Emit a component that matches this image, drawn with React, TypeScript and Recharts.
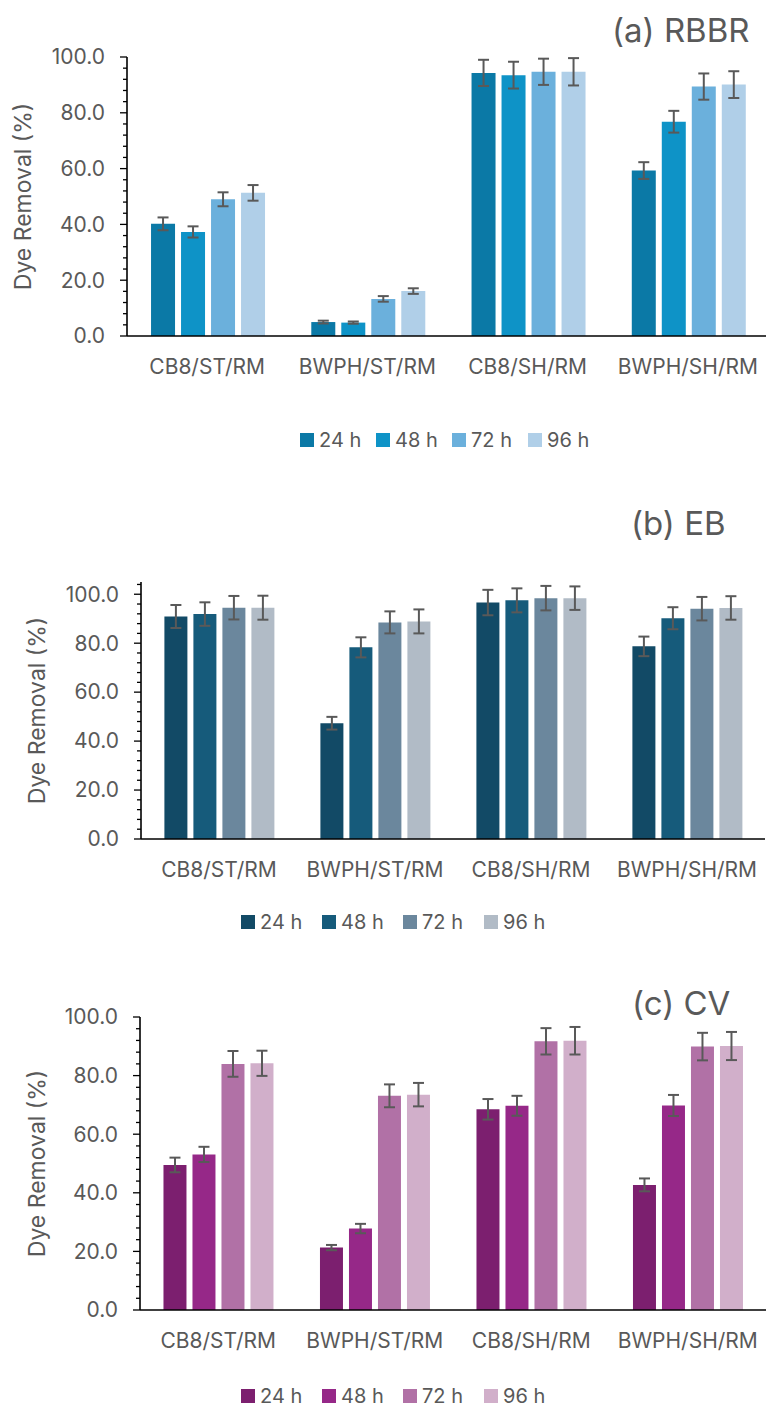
import { BarChart, Bar, XAxis, YAxis, ErrorBar, Legend } from "recharts"

const categories = ["CB8/ST/RM", "BWPH/ST/RM", "CB8/SH/RM", "BWPH/SH/RM"]
const seriesNames = ["24 h", "48 h", "72 h", "96 h"]

// (a) RBBR
const rbbr24 = [40.2, 5.0, 94.3, 59.3]
const rbbr48 = [37.3, 4.8, 93.5, 76.8]
const rbbr72 = [49.0, 13.3, 94.7, 89.4]
const rbbr96 = [51.3, 16.1, 94.7, 90.1]
const rbbrErr24 = [2.3, 0.5, 4.7, 3.0]
const rbbrErr48 = [2.0, 0.4, 4.8, 3.9]
const rbbrErr72 = [2.5, 1.0, 4.7, 4.7]
const rbbrErr96 = [2.8, 1.0, 4.9, 4.8]

// (b) EB
const eb24 = [90.9, 47.3, 96.6, 78.7]
const eb48 = [91.9, 78.3, 97.5, 90.2]
const eb72 = [94.5, 88.5, 98.4, 94.1]
const eb96 = [94.5, 88.9, 98.4, 94.4]
const ebErr24 = [4.7, 2.6, 5.2, 4.0]
const ebErr48 = [4.8, 4.1, 4.9, 4.5]
const ebErr72 = [4.8, 4.5, 5.0, 4.8]
const ebErr96 = [4.9, 4.9, 4.8, 4.8]

// (c) CV
const cv24 = [49.5, 21.3, 68.5, 42.7]
const cv48 = [53.1, 27.8, 69.7, 69.8]
const cv72 = [84.0, 73.1, 91.7, 89.9]
const cv96 = [84.2, 73.5, 91.9, 90.1]
const cvErr24 = [2.5, 0.9, 3.5, 2.2]
const cvErr48 = [2.6, 1.6, 3.4, 3.6]
const cvErr72 = [4.4, 3.9, 4.5, 4.7]
const cvErr96 = [4.3, 4.0, 4.7, 4.8]

const yTicks = [0, 4, 8, 12, 16, 20, 24, 28, 32, 36, 40, 44, 48, 52, 56, 60, 64, 68, 72, 76, 80, 84, 88, 92, 96, 100]
const yTicksB = [...yTicks, 104]

const blues = ["#0B79A6", "#0E93C7", "#6BB0DC", "#B0CFE8"]
const slates = ["#124A66", "#165B7B", "#6B879D", "#B1BBC6"]
const purples = ["#7C1F6F", "#962888", "#B171A6", "#D1AFCA"]

const TEXT = "#595959"

const buildRows = (v: number[][], e: number[][]) =>
  categories.map((name, i) => ({
    name,
    v24: v[0][i], v48: v[1][i], v72: v[2][i], v96: v[3][i],
    e24: e[0][i], e48: e[1][i], e72: e[2][i], e96: e[3][i],
  }))

const rbbrRows = buildRows([rbbr24, rbbr48, rbbr72, rbbr96], [rbbrErr24, rbbrErr48, rbbrErr72, rbbrErr96])
const ebRows = buildRows([eb24, eb48, eb72, eb96], [ebErr24, ebErr48, ebErr72, ebErr96])
const cvRows = buildRows([cv24, cv48, cv72, cv96], [cvErr24, cvErr48, cvErr72, cvErr96])

const YTick = (props: any) => {
  const { x, y, payload } = props
  const major = payload.value % 20 === 0
  return (
    <g>
      <line x1={x - (major ? 7 : 4)} x2={x} y1={y} y2={y} stroke="#000" strokeWidth={1.3} />
      {major && (
        <text x={x - 22} y={y} dy="0.35em" textAnchor="end" fontSize={21} fill={TEXT}>
          {payload.value.toFixed(1)}
        </text>
      )}
    </g>
  )
}

const LegendContent = (props: any) => {
  const { payload, step } = props
  return (
    <div style={{ display: "flex", alignItems: "center" }}>
      {payload.map((p: any) => (
        <div key={p.value} style={{ display: "flex", alignItems: "center", width: step }}>
          <span style={{ width: 14, height: 14, background: p.color, marginRight: 5 }} />
          <span style={{ fontSize: 20, color: TEXT, lineHeight: "24px" }}>{p.value}</span>
        </div>
      ))}
    </div>
  )
}

interface PanelProps {
  rows: any[]
  colors: string[]
  title: string
  titleX: number
  titleY: number
  top: number
  height: number
  margin: { top: number; right: number; bottom: number; left: number }
  domain: [number, number]
  ticks: number[]
  labelX: number
  legendX: number
  legendY: number
  legendStep: number
}

const Panel = (p: PanelProps) => {
  const keys = ["24", "48", "72", "96"]
  return (
    <div style={{ position: "absolute", left: 0, top: p.top, width: 770, height: p.height }}>
      <BarChart
        width={770}
        height={p.height}
        data={p.rows}
        margin={p.margin}
        barCategoryGap="15%"
        barGap={6}
      >
        <XAxis
          dataKey="name"
          axisLine={{ stroke: "#000", strokeWidth: 1.6 }}
          tickLine={false}
          tickSize={0}
          tickMargin={23}
          height={40}
          tick={{ fontSize: 21, fill: TEXT }}
          interval={0}
        />
        <YAxis
          width={60}
          domain={p.domain}
          ticks={p.ticks}
          interval={0}
          allowDataOverflow
          axisLine={{ stroke: "#000", strokeWidth: 1.6 }}
          tickLine={false}
          tickSize={0}
          tickMargin={0}
          tick={<YTick />}
          label={{
            content: (lp: any) => {
              const vb = lp.viewBox
              const cy = vb.y + vb.height / 2
              return (
                <text
                  x={p.labelX}
                  y={cy}
                  transform={`rotate(-90, ${p.labelX}, ${cy})`}
                  textAnchor="middle"
                  dominantBaseline="central"
                  fontSize={23}
                  fill={TEXT}
                >
                  Dye Removal (%)
                </text>
              )
            },
          }}
        />
        <Legend
          layout="horizontal"
          verticalAlign="middle"
          align="center"
          wrapperStyle={{ top: p.legendY - p.top - 12, left: p.legendX, width: "auto" }}
          content={<LegendContent step={p.legendStep} />}
        />
        {keys.map((k, i) => (
          <Bar key={k} dataKey={`v${k}`} name={seriesNames[i]} fill={p.colors[i]} isAnimationActive={false}>
            <ErrorBar dataKey={`e${k}`} direction="y" width={5.5} stroke="#595959" strokeWidth={2} />
          </Bar>
        ))}
      </BarChart>
      <div
        style={{
          position: "absolute",
          left: p.titleX,
          top: p.titleY - p.top - 20,
          fontSize: 33,
          color: TEXT,
          lineHeight: "40px",
          whiteSpace: "nowrap",
        }}
      >
        {p.title}
      </div>
    </div>
  )
}

export default function App() {
  return (
    <div
      style={{
        position: "absolute",
        left: 0,
        top: 0,
        width: 766,
        height: 1413,
        overflow: "hidden",
        background: "#fff",
        fontFamily: "Inter, 'Noto Sans', sans-serif",
      }}
    >
      <Panel
        rows={rbbrRows}
        colors={blues}
        title="(a) RBBR"
        titleX={612}
        titleY={30}
        top={0}
        height={470}
        margin={{ top: 57, right: 2, bottom: 94, left: 67 }}
        domain={[0, 100]}
        ticks={yTicks}
        labelX={23}
        legendX={300}
        legendY={440}
        legendStep={76}
      />
      <Panel
        rows={ebRows}
        colors={slates}
        title="(b) EB"
        titleX={631}
        titleY={523}
        top={470}
        height={480}
        margin={{ top: 112, right: 5, bottom: 71, left: 81 }}
        domain={[0, 105]}
        ticks={yTicksB}
        labelX={37}
        legendX={241}
        legendY={922}
        legendStep={81}
      />
      <Panel
        rows={cvRows}
        colors={purples}
        title="(c) CV"
        titleX={632}
        titleY={1003}
        top={950}
        height={463}
        margin={{ top: 67, right: 4, bottom: 63, left: 80 }}
        domain={[0, 100]}
        ticks={yTicks}
        labelX={37}
        legendX={241}
        legendY={1396}
        legendStep={81}
      />
    </div>
  )
}
